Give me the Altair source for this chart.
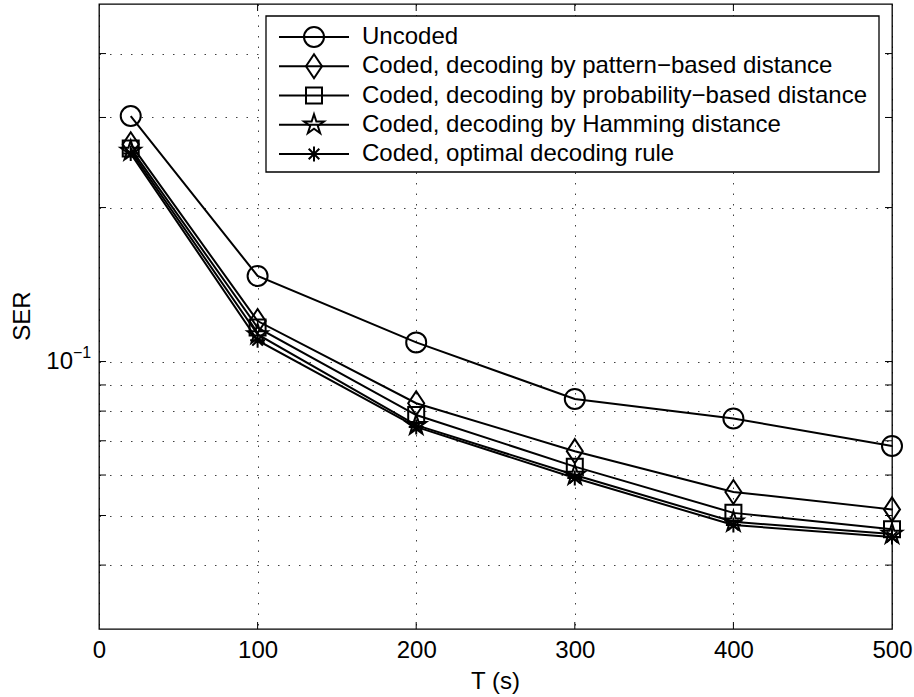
import altair as alt
import pandas as pd

# ---- data -------------------------------------------------------------
T_VALUES = [20, 100, 200, 300, 400, 500]

SERIES = [
    "Uncoded",
    "Coded, decoding by pattern\u2212based distance",
    "Coded, decoding by probability\u2212based distance",
    "Coded, decoding by Hamming distance",
    "Coded, optimal decoding rule",
]

SER_UNCODED = [0.302, 0.147, 0.109, 0.0845, 0.0774, 0.0684]
SER_PATTERN = [0.266, 0.120, 0.0829, 0.0668, 0.0556, 0.0514]
SER_PROB = [0.261, 0.1165, 0.0786, 0.0623, 0.0506, 0.0470]
SER_HAMMING = [0.258, 0.113, 0.0751, 0.0600, 0.0486, 0.0460]
SER_OPTIMAL = [0.255, 0.110, 0.0745, 0.0592, 0.0479, 0.0454]

X_TICKS = [0, 100, 200, 300, 400, 500]
X_INNER = [100, 200, 300, 400]
Y_GRID = [0.04, 0.05, 0.06, 0.07, 0.08, 0.09, 0.1, 0.2, 0.3, 0.4]

# ---- marker shapes (unit paths, scaled by sqrt(size)/2) ---------------
SHAPES = [
    "circle",
    "M0,-1.2L0.8,0L0,1.2L-0.8,0Z",
    "M-0.8,-0.8L0.8,-0.8L0.8,0.8L-0.8,0.8Z",
    "M0,-1.05L0.236,-0.324L0.999,-0.324L0.381,0.124L0.617,0.849L0,0.401"
    "L-0.617,0.849L-0.381,0.124L-0.999,-0.324L-0.236,-0.324Z",
    "M-0.75,0L0.75,0M0,-0.75L0,0.75M-0.53,-0.53L0.53,0.53M-0.53,0.53L0.53,-0.53",
]

rows = []
for name, vals in zip(SERIES, [SER_UNCODED, SER_PATTERN, SER_PROB, SER_HAMMING, SER_OPTIMAL]):
    for t, v in zip(T_VALUES, vals):
        rows.append({"series": name, "T": t, "SER": v})
df = pd.DataFrame(rows)

FONT = "Liberation Sans"
W, H = 793, 625
LW = 2

x_scale = alt.Scale(domain=[0, 500], nice=False, zero=False)
y_scale = alt.Scale(type="log", domain=[0.03, 0.5], nice=False)
shape_scale = alt.Scale(domain=SERIES, range=SHAPES)

x_axis = alt.Axis(
    values=X_TICKS, title=None, grid=True, gridDash=[1.5, 9], gridColor="#000",
    gridOpacity=0.75, gridWidth=1, ticks=False, tickSize=0, domain=False,
    labelFontSize=24, labelFont=FONT, labelColor="#000", labelPadding=9,
    labelFlush=False, format="d",
)
y_axis = alt.Axis(
    values=Y_GRID, title=None, grid=True, gridDash=[1.5, 9], gridColor="#000",
    gridOpacity=0.75, gridWidth=1, ticks=False, tickSize=0, labels=False, domain=False,
)


def xq(field):
    return alt.X(field, scale=x_scale, axis=x_axis)


def yq(field):
    return alt.Y(field, scale=y_scale, axis=y_axis)


base = alt.Chart(df)

lines = base.mark_line(color="black", strokeWidth=LW).encode(
    x=xq("T:Q"), y=yq("SER:Q"), detail="series:N", order="T:Q",
)

points = base.mark_point(filled=False, color="black", strokeWidth=LW, size=400, opacity=1).encode(
    x=xq("T:Q"), y=yq("SER:Q"),
    shape=alt.Shape("series:N", scale=shape_scale, legend=None),
)

# ---- inner tick marks on all four sides --------------------------------
TICK = 7
ydf = pd.DataFrame({"SER": Y_GRID})
xdf = pd.DataFrame({"T": X_INNER})
tick_style = dict(color="black", strokeWidth=1)

y_ticks_left = alt.Chart(ydf).mark_rule(**tick_style).encode(
    y=yq("SER:Q"), x=alt.value(0), x2=alt.value(TICK))
y_ticks_right = alt.Chart(ydf).mark_rule(**tick_style).encode(
    y=yq("SER:Q"), x=alt.value(W - TICK), x2=alt.value(W))
x_ticks_bottom = alt.Chart(xdf).mark_rule(**tick_style).encode(
    x=xq("T:Q"), y=alt.value(H - TICK), y2=alt.value(H))
x_ticks_top = alt.Chart(xdf).mark_rule(**tick_style).encode(
    x=xq("T:Q"), y=alt.value(0), y2=alt.value(TICK))

# ---- y tick label 10^-1 and axis titles --------------------------------
lab = pd.DataFrame({"SER": [0.1], "base": ["10"], "exp": ["\u22121"]})
y_label_base = alt.Chart(lab).mark_text(
    align="right", baseline="middle", fontSize=24, font=FONT, color="black"
).encode(y=yq("SER:Q"), x=alt.value(-26), text="base:N")
y_label_exp = alt.Chart(lab).mark_text(
    align="left", baseline="middle", fontSize=16, font=FONT, color="black", dy=-9
).encode(y=yq("SER:Q"), x=alt.value(-26), text="exp:N")

titles = pd.DataFrame({"x": ["T (s)"], "y": ["SER"]})
x_title = alt.Chart(titles).mark_text(
    align="center", baseline="middle", fontSize=24, font=FONT, color="black"
).encode(text="x:N", x=alt.value(W / 2), y=alt.value(H + 53))
y_title = alt.Chart(titles).mark_text(
    align="center", baseline="middle", fontSize=24, font=FONT, color="black", angle=270
).encode(text="y:N", x=alt.value(-76), y=alt.value(312))

# ---- legend box ---------------------------------------------------------
LEG_L, LEG_R, LEG_T, LEG_B = 167, 780, 12, 168
ROW0, ROW_STEP = 33, 29.25
SEG_L, SEG_R, MARK_X, TEXT_X = 180, 250, 215, 263

legend_layers = [
    alt.Chart(pd.DataFrame({"k": [0]})).mark_rect(
        fill="white", stroke="black", strokeWidth=1.3
    ).encode(x=alt.value(LEG_L), x2=alt.value(LEG_R), y=alt.value(LEG_T), y2=alt.value(LEG_B))
]
for i, name in enumerate(SERIES):
    row = pd.DataFrame({"series": [name]})
    yy = ROW0 + i * ROW_STEP
    legend_layers.append(
        alt.Chart(row).mark_rule(color="black", strokeWidth=LW).encode(
            x=alt.value(SEG_L), x2=alt.value(SEG_R), y=alt.value(yy))
    )
    legend_layers.append(
        alt.Chart(row).mark_point(filled=False, color="black", strokeWidth=LW, size=400, opacity=1).encode(
            x=alt.value(MARK_X), y=alt.value(yy),
            shape=alt.Shape("series:N", scale=shape_scale, legend=None))
    )
    legend_layers.append(
        alt.Chart(row).mark_text(
            align="left", baseline="middle", fontSize=24, font=FONT, color="black"
        ).encode(x=alt.value(TEXT_X), y=alt.value(yy), text="series:N")
    )

chart = alt.layer(
    lines, points,
    y_ticks_left, y_ticks_right, x_ticks_bottom, x_ticks_top,
    y_label_base, y_label_exp, x_title, y_title,
    *legend_layers,
).properties(
    width=W, height=H,
    autosize=alt.AutoSizeParams(type="none"),
    padding={"left": 99, "top": 4, "right": 22, "bottom": 68},
    background="white",
).configure_view(stroke="black", strokeWidth=1.3)

chart.save("out.html", embed_options={"renderer": "svg", "actions": False})
